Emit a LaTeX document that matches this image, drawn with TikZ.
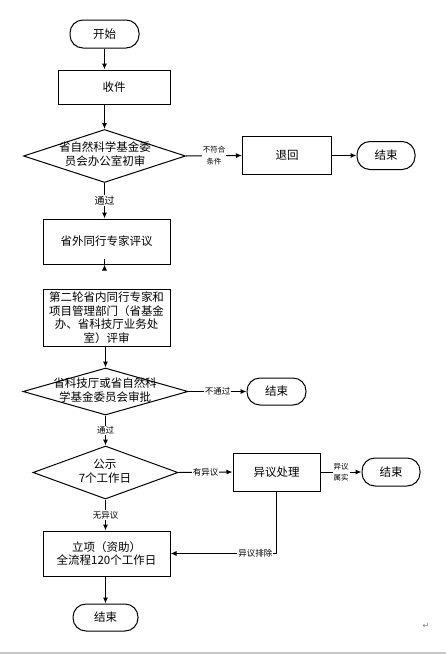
\documentclass[tikz,border=0pt]{standalone}
\usepackage{fontspec}
\newfontfamily\cjk{Noto Sans CJK SC}
\newfontfamily\dejavu{DejaVu Sans}
\usetikzlibrary{shapes.geometric,arrows.meta}
\begin{document}
\begin{tikzpicture}[x=1pt,y=-1pt,
  base/.style={draw=black, line width=1pt, inner sep=0pt, align=center, font=\cjk\fontsize{11.5}{13.5}\selectfont},
  procbox/.style={base, rectangle},
  term/.style={base, rectangle, rounded corners=13pt},
  dia/.style={base, diamond},
  dtext/.style={inner sep=0pt, align=center, font=\cjk\fontsize{11.5}{13.5}\selectfont},
  lbl/.style={fill=white, inner sep=1pt, align=center, font=\cjk\fontsize{8.5}{10}\selectfont},
  slbl/.style={lbl, font=\cjk\fontsize{7.5}{11.5}\selectfont},
  blbl/.style={lbl, font=\cjk\fontsize{10}{12}\selectfont},
  arr/.style={draw=black, line width=1pt, -{Latex[length=6pt,width=5pt]}},
  ln/.style={draw=black, line width=1pt}
]
\useasboundingbox[fill=white] (0,0) rectangle (446,654);

% nodes
\node[term, minimum width=69pt, minimum height=28pt] (start) at (104.5,34) {开始};
\node[procbox, minimum width=112pt, minimum height=34pt] (shou) at (114,87) {收件};
\node[dia, minimum width=162pt, minimum height=53pt] (d1) at (104.5,156) {};
\node[dtext] (d1t) at (105,154) {省自然科学基金委\\员会办公室初审};
\node[procbox, minimum width=89pt, minimum height=38pt] (tui) at (287,155.5) {退回};
\node[term, minimum width=58pt, minimum height=28pt] (end1) at (386,155.5) {结束};

\node[procbox, minimum width=127pt, minimum height=45pt] (b2) at (106.5,241.5) {省外同行专家评议};
\node[procbox, minimum width=127pt, minimum height=57pt] (b3) at (106.5,317.5) {第二轮省内同行专家和\\项目管理部门（省基金\\办、省科技厅业务处\\室）评审};
\node[dia, minimum width=165pt, minimum height=47pt] (d2) at (105.5,391.5) {};
\node[dtext] (d2t) at (105,390) {省科技厅或省自然科\\学基金委员会审批};
\node[term, minimum width=59pt, minimum height=27pt] (end2) at (276.5,391.5) {结束};

\node[dia, minimum width=145pt, minimum height=53pt] (d3) at (105.5,472.5) {};
\node[dtext] (d3t) at (105,471) {公示\\7个工作日};
\node[procbox, minimum width=87pt, minimum height=38pt] (yiyi) at (276.5,472) {异议处理};
\node[term, minimum width=58pt, minimum height=28pt] (end3) at (391,472) {结束};
\node[procbox, minimum width=127pt, minimum height=45pt] (lix) at (106.5,553.5) {立项（资助）\\全流程120个工作日};
\node[term, minimum width=65pt, minimum height=27pt] (end4) at (105.5,617.5) {结束};

% connectors
\draw[arr] (start.south) -- (start.south |- shou.north);
\draw[arr] (shou.south -| d1.north) -- (d1.north);
\draw[arr] (d1.east) -- node[slbl] (l1) {不符合\\条件} (tui.west);
\draw[arr] (tui.east) -- (end1.west);
\draw[arr] (d1.south) -- node[blbl] (l2) {通过} (d1.south |- b2.north);
\draw[arr] (b2.south -| d1.south) -- (b2.south -| d1.south |- b3.north);
\draw[arr] (b3.south -| d2.north) -- (d2.north);
\draw[arr] (d2.east) -- node[lbl] (l3) {不通过} (end2.west);
\draw[arr] (d2.south) -- node[lbl] (l4) {通过} (d3.north);
\draw[arr] (d3.east) -- node[lbl] (l5) {有异议} (yiyi.west);
\draw[arr] (yiyi.east) -- node[slbl] (l6) {异议\\属实} (end3.west);
\draw[arr] (d3.south) -- node[lbl] (l7) {无异议} (d3.south |- lix.north);
\draw[arr] (yiyi.south) |- node[lbl, pos=0.6] (l8) {异议排除} (lix.east);
\draw[arr] (lix.south -| end4.north) -- (end4.north);

% page artefacts
\node[font=\dejavu\fontsize{8}{8}\selectfont, text=gray, inner sep=0pt] (pm) at (426,626) {↵};
\coordinate (bl) at (0,653);
\coordinate (br) at (446,653);
\draw[gray!45, line width=1.5pt] (bl) -- (br);
\end{tikzpicture}
\end{document}
